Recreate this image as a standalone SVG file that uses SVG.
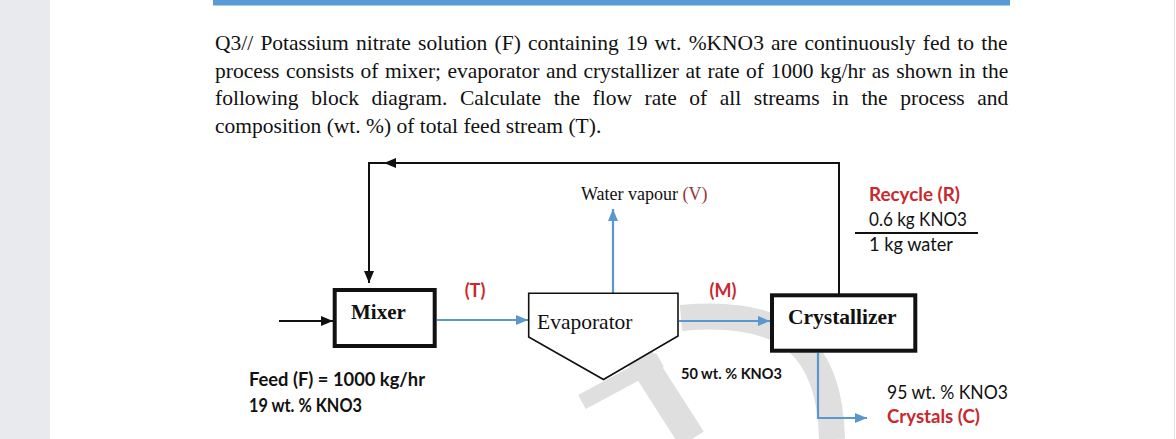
<svg xmlns="http://www.w3.org/2000/svg" width="1176" height="439" viewBox="0 0 1176 439">
  <defs>
    <style>
      .para { font-family: "Liberation Serif", "Times New Roman", serif; font-size: 21.5px; fill: #111; }
      .serif { font-family: "Liberation Serif", "Times New Roman", serif; fill: #111; }
      .sans { font-family: Lato, "Liberation Sans", Arial, sans-serif; fill: #111; }
      .bold { font-weight: bold; }
      .red { fill: #c8282e; }
      .blk { stroke: #111; stroke-width: 2; fill: none; }
      .blue { stroke: #5b97cf; stroke-width: 2.2; fill: none; }
      .box { fill: #fff; stroke: #111; stroke-width: 4; }
      .wm { stroke: #dfdfdf; fill: none; stroke-linecap: butt; }
    </style>
    <marker id="ab" viewBox="0 0 12 10" refX="12" refY="5" markerWidth="12" markerHeight="10" markerUnits="userSpaceOnUse" orient="auto">
      <path d="M0,0 L12,5 L0,10 z" fill="#111"/>
    </marker>
    <marker id="au" viewBox="0 0 12 10" refX="12" refY="5" markerWidth="12" markerHeight="10" markerUnits="userSpaceOnUse" orient="auto">
      <path d="M0,0 L12,5 L0,10 z" fill="#5b97cf"/>
    </marker>
  </defs>

  <rect x="0" y="0" width="1176" height="439" fill="#fff"/>
  <rect x="0" y="0" width="50" height="439" fill="#e9eaee"/>
  <line x1="1174.5" y1="0" x2="1174.5" y2="439" stroke="#e2e2e2" stroke-width="1"/>
  <rect x="213" y="0" width="797" height="5.5" fill="#5b9bd5"/>

  <g id="question">
    <text class="para" x="215" y="50" word-spacing="1.8">Q3// Potassium nitrate solution (F) containing 19 wt. %KNO3 are continuously fed to the</text>
    <text class="para" x="215" y="77.5" word-spacing="1.1">process consists of mixer; evaporator and crystallizer at rate of 1000 kg/hr as shown in the</text>
    <text class="para" x="215" y="105" word-spacing="7.2">following block diagram. Calculate the flow rate of all streams in the process and</text>
    <text class="para" x="215" y="132.5">composition (wt. %) of total feed stream (T).</text>
  </g>

  <g id="watermark">
    <path class="wm" stroke-width="26" d="M 681 318 C 790 308, 830 350, 832 439"/>
    <path class="wm" stroke-width="28" d="M 640 358 L 692 439"/>
    <path class="wm" stroke-width="16" d="M 582 402 L 660 360"/>
  </g>

  <g id="connectors">
    <path class="blk" d="M 839 294 V 163 H 369 V 283" marker-end="url(#ab)"/>
    <path d="M 384 163 L 396 158 L 396 168 z" fill="#111"/>
    <path class="blk" d="M 279 321 H 333" marker-end="url(#ab)"/>
    <path class="blue" d="M 437 320 H 528" marker-end="url(#au)"/>
    <path class="blue" d="M 613 293 V 209" marker-end="url(#au)"/>
    <path class="blue" d="M 679 321 H 770" marker-end="url(#au)"/>
    <path class="blue" d="M 818 353 V 418 H 867" marker-end="url(#au)"/>
  </g>

  <g id="mixer">
    <rect class="box" x="334.7" y="290" width="100" height="56"/>
    <text class="serif bold" x="351" y="319" font-size="21">Mixer</text>
  </g>

  <g id="evaporator">
    <path d="M 528.7 293.3 H 678 V 336 L 603.5 379.5 L 528.7 337 Z" fill="#fff" stroke="#111" stroke-width="1.6"/>
    <text class="serif" x="537" y="329" font-size="21.5">Evaporator</text>
  </g>

  <g id="crystallizer">
    <rect class="box" x="772" y="295.3" width="143.3" height="55.4"/>
    <text class="serif bold" x="788" y="324" font-size="21.5">Crystallizer</text>
  </g>

  <g id="labels">
    <text class="serif" x="581" y="200" font-size="18">Water vapour <tspan fill="#953735">(V)</tspan></text>
    <text class="sans bold red" x="475" y="297" font-size="18" text-anchor="middle">(T)</text>
    <text class="sans bold red" x="723" y="297" font-size="18" text-anchor="middle">(M)</text>
    <text class="sans bold red" x="869" y="201" font-size="19.5" textLength="91" lengthAdjust="spacingAndGlyphs">Recycle (R)</text>
    <text class="sans" x="869" y="226" font-size="19.5" textLength="98" lengthAdjust="spacingAndGlyphs">0.6 kg KNO3</text>
    <line x1="855" y1="233" x2="978" y2="233" stroke="#111" stroke-width="2"/>
    <text class="sans" x="869" y="251" font-size="19.5" textLength="84" lengthAdjust="spacingAndGlyphs">1 kg water</text>
    <text class="sans bold" x="249" y="386" font-size="19.5" textLength="176" lengthAdjust="spacingAndGlyphs">Feed (F) = 1000 kg/hr</text>
    <text class="sans bold" x="249" y="412" font-size="19.5" textLength="113" lengthAdjust="spacingAndGlyphs">19 wt. % KNO3</text>
    <text class="sans bold" x="681" y="379" font-size="15.5" textLength="101" lengthAdjust="spacingAndGlyphs">50 wt. % KNO3</text>
    <text class="sans" x="887" y="399" font-size="19.5" textLength="121" lengthAdjust="spacingAndGlyphs">95 wt. % KNO3</text>
    <text class="sans bold red" x="887" y="423" font-size="19.5" textLength="93" lengthAdjust="spacingAndGlyphs">Crystals (C)</text>
  </g>
</svg>
